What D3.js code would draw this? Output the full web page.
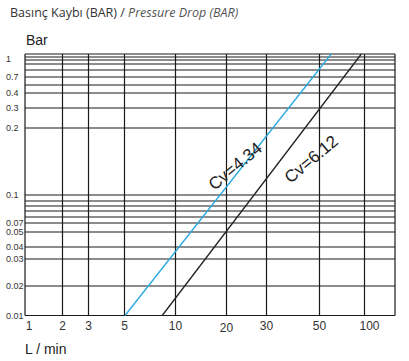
<!DOCTYPE html>
<html>
<head>
<meta charset="utf-8">
<title>Basınç Kaybı</title>
<script src="https://d3js.org/d3.v7.min.js"></script>
<style>
  body { margin: 0; background: #fff; }
  svg { display: block; }
  text { font-family: "Liberation Sans", Arial, sans-serif; }
</style>
</head>
<body>
<div id="chart"></div>
<script>
  // flow axis (L/min)
  const xTicks = [1, 2, 3, 5, 10, 20, 30, 50, 100];
  const xMax = 150;
  // pressure axis (bar): every grid line, and the labelled ones
  const yGrid = [1, 0.95, 0.9, 0.85, 0.8, 0.7, 0.5, 0.4, 0.3, 0.2,
                 0.1, 0.095, 0.09, 0.085, 0.08, 0.07, 0.05, 0.04, 0.03, 0.02, 0.01];
  const yLabels = [1, 0.7, 0.4, 0.3, 0.2, 0.1, 0.07, 0.05, 0.04, 0.03, 0.02, 0.01];

  // Cv lines: flow at the bottom (0.01 bar) and top (1 bar)
  const cvNames = ["Cv=4.34", "Cv=6.12"];
  const flowLow = [5.05, 8.7];
  const flowHigh = [63, 96.5];
  const pressureEnds = [0.01, 1];

  const width = 409, height = 361;

  // the printed chart has hand spaced grid lines, so both scales are piecewise
  const x = d3.scaleLinear()
    .domain(xTicks.concat([xMax]))
    .range([25, 62.5, 88.5, 124.5, 175.5, 226.5, 266.5, 319.5, 364.5, 395]);

  const y = d3.scaleLinear()
    .domain(yGrid)
    .range([54, 57, 60, 64, 70, 77, 85, 93, 108, 128,
            195, 201, 206, 211, 217, 223, 232, 247, 259, 286, 315.5]);

  const svg = d3.select("#chart").append("svg")
    .attr("width", width)
    .attr("height", height);

  // title
  const title = svg.append("text")
    .attr("x", 10).attr("y", 17)
    .style("font-family", "'Open Sans', sans-serif")
    .style("font-size", "12.5px");
  title.append("tspan").attr("fill", "#333").text("Basınç Kaybı (BAR) / ");
  title.append("tspan").attr("fill", "#555").style("font-style", "italic").text("Pressure Drop (BAR)");

  svg.append("text")
    .attr("x", 26).attr("y", 45)
    .attr("fill", "#222")
    .style("font-size", "14px")
    .text("Bar");

  svg.append("text")
    .attr("x", 25).attr("y", 354)
    .attr("fill", "#222")
    .style("font-size", "14px")
    .text("L / min");

  const grid = svg.append("g")
    .attr("stroke", "#1a1a1a")
    .attr("stroke-width", 1.2);

  grid.selectAll("line.h")
    .data(yGrid)
    .join("line")
    .attr("class", "h")
    .attr("x1", x(1)).attr("x2", x(xMax))
    .attr("y1", d => y(d)).attr("y2", d => y(d));

  grid.selectAll("line.v")
    .data(xTicks.concat([xMax]))
    .join("line")
    .attr("class", "v")
    .attr("x1", d => x(d)).attr("x2", d => x(d))
    .attr("y1", y(1)).attr("y2", y(0.01));

  // y labels
  svg.append("g")
    .selectAll("text")
    .data(yLabels)
    .join("text")
    .attr("x", 6)
    .attr("y", d => d === 1 ? y(d) + 5 : y(d))
    .attr("dy", "0.35em")
    .attr("fill", "#333")
    .style("font-size", "9px")
    .text(d => d);

  // x labels
  svg.append("g")
    .selectAll("text")
    .data(xTicks)
    .join("text")
    .attr("x", (d, i) => x(d) + (i === 0 ? 4 : i === xTicks.length - 1 ? 5 : 0))
    .attr("y", (d) => d === 20 ? 332 : 330)
    .attr("text-anchor", "middle")
    .attr("fill", "#333")
    .style("font-size", "12px")
    .text(d => d);

  // Cv lines
  const colors = ["#29a8e0", "#222"];
  const line = d3.line().x(d => x(d[0])).y(d => y(d[1]));

  cvNames.forEach((name, i) => {
    const pts = [[flowLow[i], pressureEnds[0]], [flowHigh[i], pressureEnds[1]]];
    svg.append("path")
      .attr("d", line(pts))
      .attr("fill", "none")
      .attr("stroke", colors[i])
      .attr("stroke-width", 1.3);
  });

  // labels along the lines
  const labelPos = [[235, 166], [311, 159]];
  svg.selectAll("text.cv")
    .data(cvNames)
    .join("text")
    .attr("class", "cv")
    .attr("transform", (d, i) => `translate(${labelPos[i][0]},${labelPos[i][1]}) rotate(-40)`)
    .attr("text-anchor", "middle")
    .attr("dy", "0.35em")
    .attr("fill", "#222")
    .style("font-size", "17px")
    .text(d => d);
</script>
</body>
</html>
